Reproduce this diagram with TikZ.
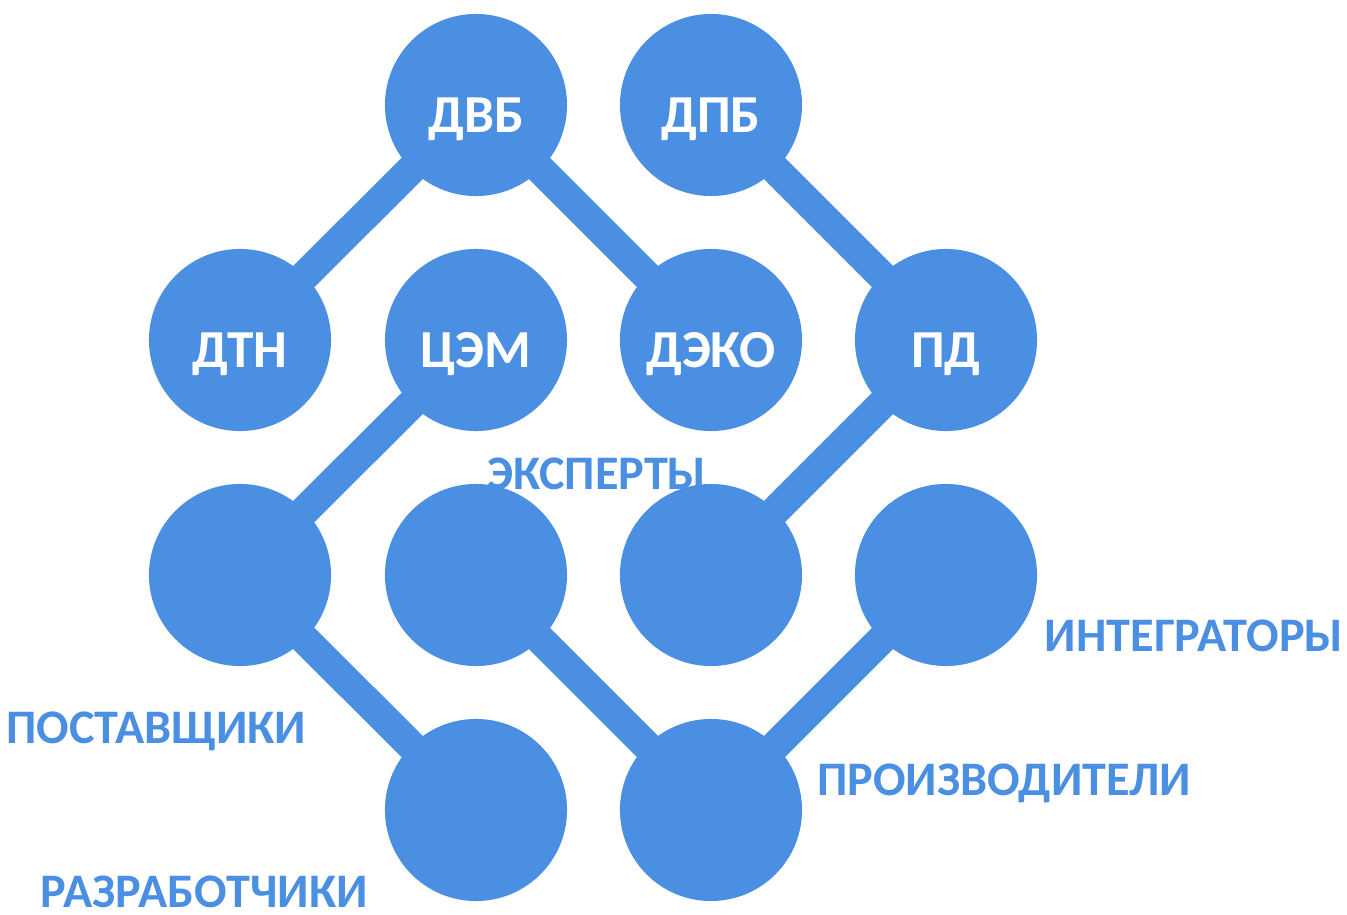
\documentclass[tikz,border=0pt]{standalone}
\usepackage{fontspec}
\setmainfont{Carlito}
\usetikzlibrary{backgrounds}
\definecolor{netblue}{HTML}{4A8FE2}
\begin{document}
\begin{tikzpicture}[x=0.01cm, y=-0.01cm,
        hub/.style={circle, fill=netblue, minimum size=1.82cm, inner sep=0pt,
            text height=0.54cm, text depth=0cm,
            text=white, font=\fontsize{15.2}{18}\selectfont\bfseries},
        link/.style={netblue, line width=0.3cm},
        group/.style={text=netblue, font=\fontsize{13.7}{16}\selectfont\bfseries}]
        \useasboundingbox (0,0) rectangle (1347,915);

        % top rows
        \node[hub] (dvb) at (476,105) {ДВБ};
        \node[hub] (dpb) at (711,105) {ДПБ};
        \node[hub] (dtn) at (240,340) {ДТН};
        \node[hub] (cem) at (476,340) {ЦЭМ};
        \node[hub] (deko) at (711,340) {ДЭКО};
        \node[hub] (pd) at (946,340) {ПД};

        % empty circles
        \node[hub] (post) at (240,575) {};
        \node[hub] (eksp) at (476,575) {};
        \node[hub] (eksp2) at (711,575) {};
        \node[hub] (integ) at (946,575) {};
        \node[hub] (razr) at (476,810) {};
        \node[hub] (proiz) at (711,810) {};

        \begin{scope}[on background layer]
            \node[group] (l-eksp) at (597,474) {ЭКСПЕРТЫ};
            \node[group] (l-post) at (156,731) {ПОСТАВЩИКИ};
            \node[group] (l-integ) at (1194,636) {ИНТЕГРАТОРЫ};
            \node[group] (l-proiz) at (1004,783) {ПРОИЗВОДИТЕЛИ};
            \node[group] (l-razr) at (204,892) {РАЗРАБОТЧИКИ};

            \draw[link] (dvb.center) -- (dtn.center);
            \draw[link] (dvb.center) -- (deko.center);
            \draw[link] (dpb.center) -- (pd.center);
            \draw[link] (cem.center) -- (post.center);
            \draw[link] (pd.center) -- (eksp2.center);
            \draw[link] (post.center) -- (razr.center);
            \draw[link] (eksp.center) -- (proiz.center);
            \draw[link] (proiz.center) -- (integ.center);
        \end{scope}
\end{tikzpicture}
\end{document}
